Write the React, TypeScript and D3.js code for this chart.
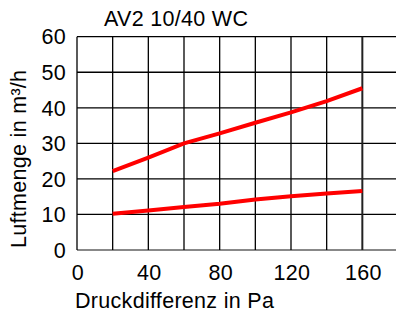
import React from 'react';
import * as d3 from 'd3';

// Druckdifferenz (Pa) vs. Luftmenge (m³/h)
const pressure = [20, 40, 60, 80, 100, 120, 140, 160];
const upperFlow = [22.2, 26.0, 30.0, 32.8, 35.8, 38.7, 41.9, 45.5];
const lowerFlow = [10.2, 11.1, 12.1, 13.0, 14.2, 15.1, 15.9, 16.6];
const xTicks = [0, 40, 80, 120, 160];
const yTicks = [0, 10, 20, 30, 40, 50, 60];
const xGrid = [0, 20, 40, 60, 80, 100, 120, 140, 160];

const W = 396;
const H = 318;

const App: React.FC = () => {
  const x = d3.scaleLinear().domain([0, 180]).range([77, 398]);
  const y = d3.scaleLinear().domain([0, 60]).range([250, 36.7]);

  const line = d3.line<number>()
    .x((_, i) => x(pressure[i]))
    .y(d => y(d));

  const font = "'Liberation Sans', Arial, sans-serif";
  const textStyle = { fontFamily: font, fontSize: 21.5, letterSpacing: 0.3, fill: '#000' };

  return (
    <div style={{ position: 'fixed', left: 0, top: 0 }}>
      <svg width={W} height={H} style={{ display: 'block', background: '#fff' }}>
        {/* horizontal grid */}
        {yTicks.map(t => (
          <line key={'h' + t} x1={x(0)} x2={W} y1={y(t)} y2={y(t)}
            stroke={t === 0 ? '#888' : '#000'} strokeWidth={t === 0 ? 1.8 : 1.3} />
        ))}
        {/* vertical grid */}
        {xGrid.map(t => (
          <line key={'v' + t} x1={x(t)} x2={x(t)} y1={y(60)} y2={y(0)}
            stroke={t === 160 ? '#222' : '#000'} strokeWidth={t === 160 ? 2 : 1.3} />
        ))}

        {/* series */}
        <path d={line(upperFlow) || ''} fill="none" stroke="#ff0000" strokeWidth={4} />
        <path d={line(lowerFlow) || ''} fill="none" stroke="#ff0000" strokeWidth={4} />

        {/* y tick labels */}
        {yTicks.map(t => (
          <text key={'yl' + t} x={66} y={y(t) + 7.7} textAnchor="end" style={textStyle}>{t}</text>
        ))}
        {/* x tick labels */}
        {xTicks.map(t => (
          <text key={'xl' + t} x={x(t) + 1} y={280} textAnchor="middle" style={textStyle}>{t}</text>
        ))}

        <text x={104} y={26} style={textStyle}>AV2 10/40 WC</text>
        <text x={75} y={308} style={textStyle}>Druckdifferenz in Pa</text>
        <text transform="translate(26,248) rotate(-90)" style={textStyle}>Luftmenge in m³/h</text>
      </svg>
    </div>
  );
};

export default App;
